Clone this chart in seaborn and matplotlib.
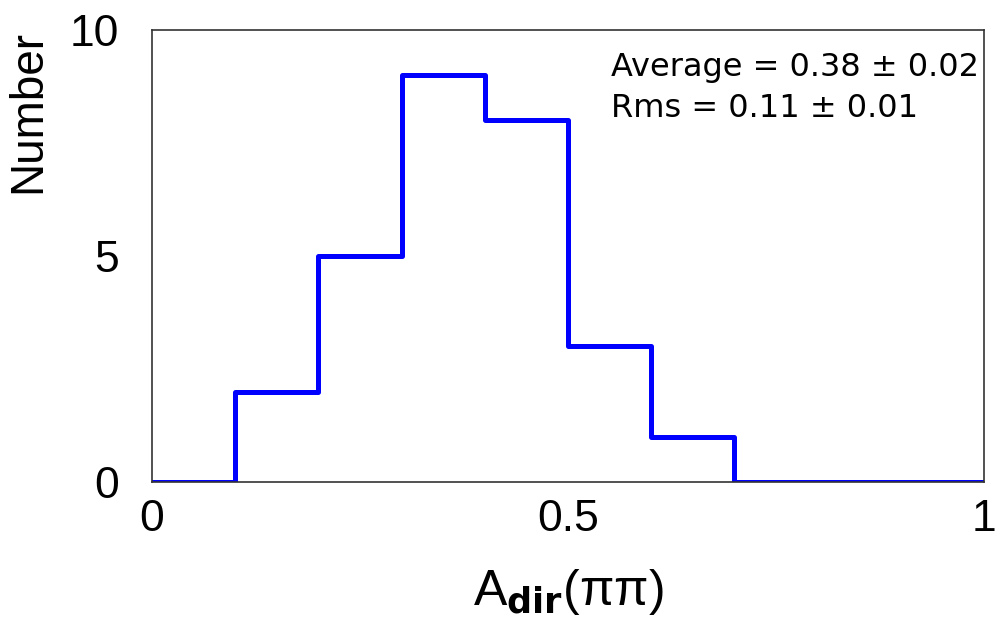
import matplotlib
matplotlib.use("Agg")
import matplotlib.pyplot as plt
import seaborn as sns
import numpy as np
import pandas as pd

bin_edges = [0.0, 0.1, 0.2, 0.3, 0.4, 0.5, 0.6, 0.7, 0.8, 0.9, 1.0]
counts = [0, 2, 5, 9, 8, 3, 1, 0, 0, 0]
x_ticks = [0, 0.5, 1]
x_ticklabels = ["0", "0.5", "1"]
y_ticks = [0, 5, 10]
y_ticklabels = ["0", "5", "10"]
stats_lines = ["Average = 0.38 \u00b1 0.02", "Rms = 0.11 \u00b1 0.01"]

centers = [(a + b) / 2 for a, b in zip(bin_edges[:-1], bin_edges[1:])]
df = pd.DataFrame({"x": centers, "w": counts})

sns.set_theme(style="white")
plt.rcParams["font.family"] = ["Liberation Sans", "DejaVu Sans"]
plt.rcParams["mathtext.fontset"] = "dejavusans"
plt.rcParams["text.color"] = "black"
plt.rcParams["axes.labelcolor"] = "black"

fig = plt.figure(figsize=(9.98, 6.27), dpi=100)
ax = fig.add_axes([0.1523, 0.2313, 0.986 - 0.1523, 0.952 - 0.2313])

sns.histplot(data=df, x="x", weights="w", bins=bin_edges, element="step",
             fill=False, color="#0000ff", linewidth=3.6, ax=ax)

ax.set_xlim(0, 1)
ax.set_ylim(0, 10)
ax.set_xticks(x_ticks)
ax.set_xticklabels(x_ticklabels)
ax.set_yticks(y_ticks)
ax.set_yticklabels(y_ticklabels)
ax.tick_params(axis="both", direction="in", length=16, width=1.0, color="#333333",
               labelsize=32, labelcolor="black")
ax.tick_params(axis="x", pad=12)
ax.tick_params(axis="y", pad=24)
for s in ax.spines.values():
    s.set_color("#333333")
    s.set_linewidth(1.2)

ax.set_xlabel("A$_{\\mathbf{dir}}$(\u03c0\u03c0)", fontsize=36, labelpad=20,
              color="black")
ax.set_ylabel("Number", fontsize=33, loc="top", labelpad=14, color="black")

ax.text(0.552, 0.898, stats_lines[0], transform=ax.transAxes, fontsize=23,
        family=["DejaVu Sans"], va="baseline", ha="left", color="black")
ax.text(0.552, 0.808, stats_lines[1], transform=ax.transAxes, fontsize=23,
        family=["DejaVu Sans"], va="baseline", ha="left", color="black")

fig.savefig("out.png", dpi=100)
